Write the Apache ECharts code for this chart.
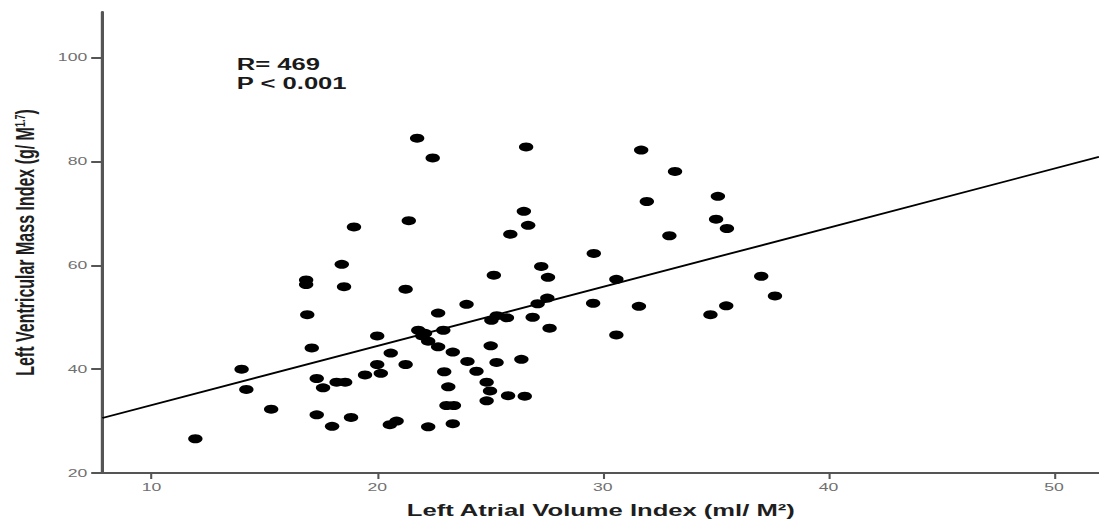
<!DOCTYPE html>
<html>
<head>
<meta charset="utf-8">
<script src="https://cdn.jsdelivr.net/npm/echarts@6/dist/echarts.min.js"></script>
<style>
  html, body { margin: 0; padding: 0; background: #fff; overflow: hidden; }
  /* the plot is laid out on a narrower canvas and widened 1.6x, giving the wide lettering and oval dots */
  #chart { width: 686.875px; height: 524px; transform: scaleX(1.6); transform-origin: 0 0; }
</style>
</head>
<body>
<div id="chart"></div>
<script>
// Left atrial volume index (ml/M²) per patient
const laviValues = [
  21.77, 22.46, 26.6, 31.7, 33.2, 35.1, 31.95, 21.4, 26.5, 18.97,
  26.69, 35.02, 35.5, 25.9, 32.95, 29.6, 18.43, 27.27, 25.17, 27.57,
  16.85, 16.85, 18.53, 21.26, 30.6, 37.02, 37.63, 27.54, 27.11, 23.96,
  29.57, 31.6, 35.47, 34.77, 16.9, 22.7, 25.3, 25.06, 25.75, 26.89,
  27.64, 30.6, 21.82, 22.12, 22.93, 20.0, 22.26, 22.7, 25.03, 17.1,
  23.35, 20.6, 26.39, 24.0, 25.29, 20.0, 21.26, 13.99, 24.4, 22.97,
  19.46, 20.16, 17.32, 18.2, 18.58, 24.85, 17.6, 23.15, 14.2, 25.0,
  25.8, 26.54, 24.85, 23.07, 23.4, 15.3, 17.32, 18.84, 20.86, 20.56,
  23.35, 18.0, 22.26, 11.94, 22.0
];
// Left ventricular mass index (g/M^1.7), same order
const lvmiValues = [
  84.5, 80.7, 82.8, 82.2, 78.1, 73.3, 72.3, 68.6, 70.4, 67.4,
  67.7, 68.9, 67.1, 66.0, 65.7, 62.3, 60.2, 59.8, 58.1, 57.7,
  57.2, 56.3, 55.9, 55.4, 57.3, 57.9, 54.1, 53.7, 52.6, 52.5,
  52.7, 52.1, 52.2, 50.5, 50.5, 50.8, 50.3, 49.4, 49.9, 50.0,
  47.9, 46.6, 47.5, 46.9, 47.5, 46.4, 45.4, 44.3, 44.5, 44.1,
  43.3, 43.1, 41.9, 41.5, 41.3, 40.9, 40.9, 40.0, 39.6, 39.5,
  38.9, 39.2, 38.2, 37.5, 37.5, 37.5, 36.4, 36.6, 36.1, 35.8,
  34.9, 34.8, 33.9, 33.0, 33.0, 32.3, 31.2, 30.7, 30.0, 29.3,
  29.5, 29.0, 28.9, 26.6, 46.4
];
// Fitted regression line: end points across the plotted range
const fitLavi = [7.82, 52.0];
const fitLvmi = [30.6, 80.9];

const xTickValues = [10, 20, 30, 40, 50];
const yTickValues = [20, 40, 60, 80, 100];
const statsText = ['R= 469', 'P < 0.001'];

const xRange = [7.82, 52.0];
const yRange = [20, 108.8];

const points = laviValues.map((x, i) => [x, lvmiValues[i]]);
const fitPoints = fitLavi.map((x, i) => [x, fitLvmi[i]]);

const chart = echarts.init(document.getElementById('chart'), null, { renderer: 'svg' });

const axisFont = 'Liberation Sans';

chart.setOption({
  animation: false,
  backgroundColor: '#ffffff',
  grid: { left: 62.5, right: 0, top: 12, bottom: 51 },
  xAxis: {
    type: 'value',
    min: xRange[0],
    max: xRange[1],
    name: 'Left Atrial Volume Index (ml/ M²)',
    nameLocation: 'middle',
    nameGap: 30,
    nameTextStyle: { fontFamily: axisFont, fontWeight: 'bold', fontSize: 16, color: '#1e1e1e' },
    axisLine: { show: true, onZero: false, lineStyle: { color: '#555', width: 2 } },
    axisTick: { show: true, length: 6, customValues: xTickValues, lineStyle: { color: '#555', width: 1.3 } },
    axisLabel: { customValues: xTickValues, margin: 9, fontFamily: axisFont, fontSize: 11, color: '#707070' },
    splitLine: { show: false }
  },
  yAxis: {
    type: 'value',
    min: yRange[0],
    max: yRange[1],
    name: '{t|Left Ventricular Mass Index (g/ M}{s|1.7}{t|)}',
    nameLocation: 'middle',
    nameGap: 40,
    nameTextStyle: {
      fontFamily: axisFont, fontWeight: 'bold', fontSize: 16, color: '#1e1e1e',
      rich: {
        t: { fontFamily: axisFont, fontWeight: 'bold', fontSize: 16, color: '#1e1e1e' },
        s: { fontFamily: axisFont, fontWeight: 'bold', fontSize: 9, color: '#1e1e1e', verticalAlign: 'top' }
      }
    },
    axisLine: { show: true, onZero: false, lineStyle: { color: '#555', width: 2 } },
    axisTick: { show: true, length: 7, customValues: yTickValues, lineStyle: { color: '#555', width: 2 } },
    axisLabel: { customValues: yTickValues, margin: 9.5, fontFamily: axisFont, fontSize: 11, color: '#707070' },
    splitLine: { show: false }
  },
  graphic: [{
    type: 'text',
    left: 148,
    top: 55,
    silent: true,
    style: {
      text: statsText.join('\n'),
      fontFamily: axisFont,
      fontWeight: 'bold',
      fontSize: 16,
      lineHeight: 19,
      fill: '#1a1a1a'
    }
  }],
  series: [
    {
      type: 'scatter',
      data: points,
      symbol: 'circle',
      symbolSize: 9,
      itemStyle: { color: '#000000', opacity: 1 },
      silent: true,
      z: 3
    },
    {
      type: 'line',
      data: fitPoints,
      showSymbol: false,
      lineStyle: { color: '#000000', width: 1.8 },
      silent: true,
      z: 2
    }
  ]
});
</script>
</body>
</html>
